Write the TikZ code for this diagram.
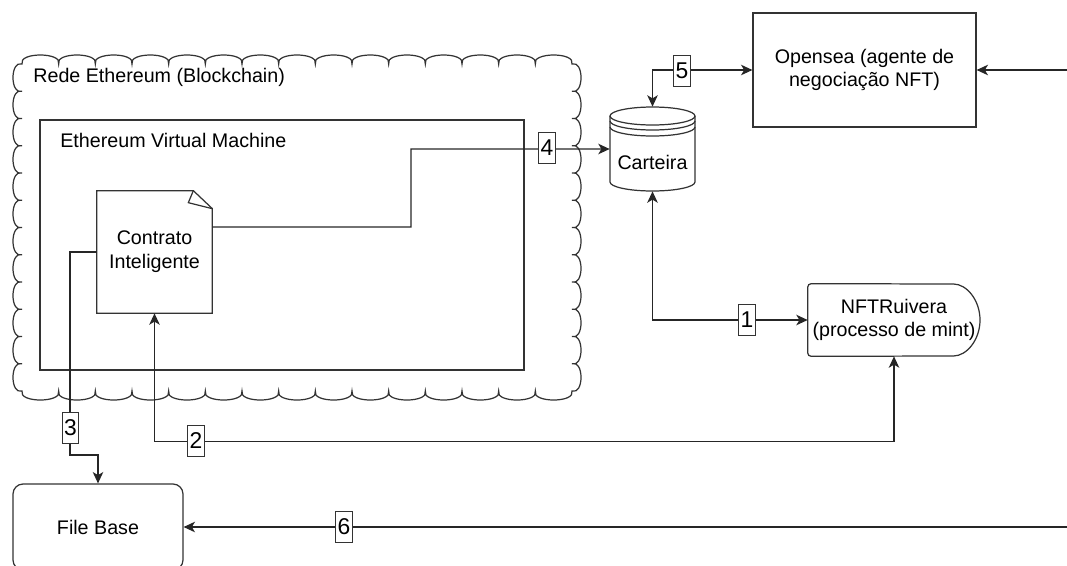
\documentclass[tikz,border=0pt]{standalone}
\usepackage{fontspec}
\setmainfont{Liberation Sans}
\usetikzlibrary{calc,arrows.meta}
\tikzset{
	shp/.style={draw=black!80, line width=0.7pt},
	conn/.style={draw=black!85, line width=0.7pt},
	txt/.style={inner sep=0pt, font=\fontsize{11.2}{13.5}\selectfont},
	box/.style={txt, shp},
	numlbl/.style={draw=black!80, line width=0.5pt, fill=white, inner xsep=1pt, inner ysep=0pt, minimum height=0.62cm, font=\fontsize{13}{15}\selectfont}
}

\begin{document}
\begin{tikzpicture}[x=0.02cm, y=-0.02cm, >={Stealth[length=6.5pt,width=6pt,inset=1.8pt]}]
			%%%%% START %%%%%
			
			\useasboundingbox (0,0) rectangle (1067,565);
			\clip (0,0) rectangle (1067,565);
			
			\draw[shp] (22,64)
				\foreach \i in {1,...,15} { .. controls +(-4,-12) and +(4,-12) .. (22+\i*36.667,64) }
				\foreach \i in {1,...,12} { .. controls +(12,-4) and +(12,4) .. (572,64+\i*27.25) }
				\foreach \i in {1,...,15} { .. controls +(4,12) and +(-4,12) .. (572-\i*36.667,391) }
				\foreach \i in {1,...,12} { .. controls +(-12,4) and +(-12,-4) .. (22,391-\i*27.25) } -- cycle;
			\node[txt, anchor=west] (rede) at (33,77) {Rede Ethereum (Blockchain)};
			
			\draw[shp] (40,120) rectangle (524,370);
			\node[txt, anchor=west] (evm) at (60,140) {Ethereum Virtual Machine};
			
			\node[txt, minimum width=2.3cm, minimum height=2.44cm, align=center] (ct) at (154.5,252) {Contrato\\Inteligente};
			\draw[shp] (ct.south west) -- (ct.north west) -- ($(ct.north east)+(-19,0)$) -- ($(ct.north east)+(0,18)$) -- (ct.south east) -- cycle;
			\draw[shp] ($(ct.north east)+(-19,0)$) -- ($(ct.north east)+(-24,12)$) -- ($(ct.north east)+(0,18)$);
			
			\node[minimum width=1.7cm, minimum height=1.68cm, inner sep=0pt] (cart) at (652.5,149) {};
			\draw[shp] (610,116) -- (610,182) arc[start angle=180, end angle=360, x radius=0.85cm, y radius=0.18cm] -- (695,116);
			\draw[shp] (652.5,116) ellipse [x radius=0.85cm, y radius=0.18cm];
			\draw[shp] (610,121) arc[start angle=180, end angle=360, x radius=0.85cm, y radius=0.18cm];
			\draw[shp] (610,127) arc[start angle=180, end angle=360, x radius=0.85cm, y radius=0.18cm];
			\node[txt] (cartlbl) at (652.5,162) {Carteira};
			
			\node[box, minimum width=4.46cm, minimum height=2.28cm, align=center] (os) at (864.5,70) {Opensea (agente de\\negociação NFT)};
			
			\node[txt, minimum width=3.44cm, minimum height=1.44cm, align=center] (nft) at (894,320) {NFTRuivera\\(processo de mint)};
			\draw[shp, rounded corners=2pt] (nft.south west) -- (nft.north west) -- (950,284) arc[start angle=90, end angle=-90, x radius=0.6cm, y radius=0.72cm] -- cycle;
			
			\node[box, rounded corners=0.2cm, minimum width=3.4cm, minimum height=1.72cm] (fb) at (98,527) {File Base};
			
			\coordinate (osin) at (1075,70);
			\coordinate (fbin) at (1075,527);
			
			\draw[conn, ->] ([yshift=0.5cm]ct.east) -- (411,227) |- (cart.west);
			\draw[conn, <->] (cart.north) |- (os.west);
			\draw[conn, <->] (cart.south) |- (nft.west);
			\draw[conn, <->] (ct.south) -- ++(0,128) -| (nft.south);
			\draw[conn, ->] (ct.west) -| (70,455) -| (fb.north);
			\draw[conn, ->] (fbin) -- (fb.east);
			\draw[conn, ->] (osin) -- (os.east);
			
			\node[numlbl] (l1) at (747,320) {1};
			\node[numlbl] (l2) at (196,441) {2};
			\node[numlbl] (l3) at (70.5,428) {3};
			\node[numlbl] (l4) at (547,148) {4};
			\node[numlbl] (l5) at (682,71) {5};
			\node[numlbl] (l6) at (344,527) {6};
			
			%%%%% END %%%%%
\end{tikzpicture}
\end{document}
